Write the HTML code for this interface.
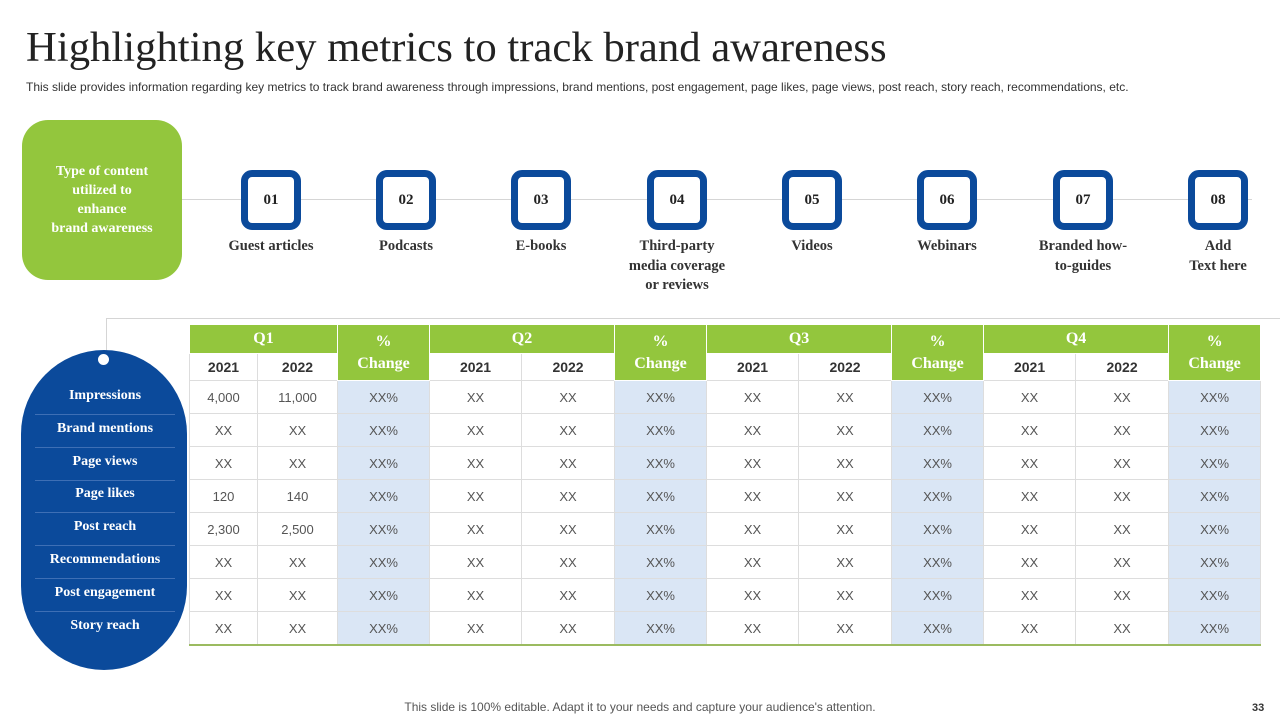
<!DOCTYPE html>
<html><head><meta charset="utf-8">
<style>
body{margin:0;width:1280px;height:720px;background:#fff;position:relative;overflow:hidden;font-family:"Liberation Serif",serif}
.abs{position:absolute}
h1{position:absolute;left:26px;top:23px;margin:0;font-weight:normal;font-size:42.7px;color:#222;font-family:"Liberation Serif",serif;white-space:nowrap}
.sub{left:26px;top:80px;font:12px "Liberation Sans",sans-serif;color:#333;white-space:nowrap}
.green{left:22px;top:120px;width:160px;height:160px;background:#93c63d;border-radius:26px;color:#fff;font-weight:bold;font-size:14px;text-align:center;display:flex;align-items:center;justify-content:center;line-height:19px}
.box{width:46px;height:46px;border:7px solid #0b4a9b;border-radius:11px;background:#fff;display:flex;align-items:center;justify-content:center;font-weight:bold;font-size:15px;color:#222}
.lbl{width:130px;text-align:center;font-weight:bold;font-size:14.5px;color:#333;line-height:19.5px}
.pill{left:21px;top:350px;width:166px;height:320px;background:#0b4a9b;border-radius:83px/84px}
.mlbl{left:35px;width:140px;height:33px;text-align:center;color:#fff;font-weight:bold;font-size:14px;line-height:30px;border-bottom:1px solid #3e6fb5}
table{position:absolute;left:189px;top:324px;border-collapse:collapse;font-family:"Liberation Sans",sans-serif;font-size:13px;color:#555;border-bottom:2px solid #9bbb60}
td{border:1px solid #ddd;text-align:center;height:32px;padding:0}
.gh{background:#93c63d;color:#fff;font-family:"Liberation Serif",serif;font-weight:bold;font-size:16px;border:1px solid #fff;height:28px}
.yr{font-weight:bold;font-size:14px;color:#333;height:26px}
.pc{background:#dae6f5}
</style></head><body>
<h1>Highlighting key metrics to track brand awareness</h1>
<div class="abs sub">This slide provides information regarding key metrics to track brand awareness through impressions, brand mentions, post engagement, page likes, page views, post reach, story reach, recommendations, etc.</div>
<div class="abs green">Type of content<br>utilized to<br>enhance<br>brand awareness</div>
<div class="abs" style="left:182px;top:199px;width:1070px;height:1px;background:#d5d5d5"></div>
<div id="steps"></div>
<div class="abs" style="left:106px;top:318px;width:1174px;height:1px;background:#d5d5d5"></div>
<div class="abs" style="left:106px;top:318px;width:1px;height:34px;background:#d5d5d5"></div>
<div class="abs pill"></div>
<div class="abs" style="left:98px;top:354px;width:11px;height:11px;border-radius:50%;background:#fff"></div>
<div id="metrics"></div>
<table id="tbl"></table>
<div class="abs" style="left:0;width:1280px;top:700px;text-align:center;font:12px 'Liberation Sans',sans-serif;color:#555">This slide is 100% editable. Adapt it to your needs and capture your audience's attention.</div>
<div class="abs" style="left:1252px;top:702px;font:bold 11px 'Liberation Sans',sans-serif;color:#333">33</div>
<script>
const stepLabels=["Guest articles","Podcasts","E-books","Third-party<br>media coverage<br>or reviews","Videos","Webinars","Branded how-<br>to-guides","Add<br>Text here"];
const metrics=["Impressions","Brand  mentions","Page views","Page likes","Post reach","Recommendations","Post engagement","Story reach"];
const q1y2021=["4,000","XX","XX","120","2,300","XX","XX","XX"];
const q1y2022=["11,000","XX","XX","140","2,500","XX","XX","XX"];
const steps=document.getElementById('steps');
const cx=[271,406,541,677,812,947,1083,1218];
stepLabels.forEach((t,i)=>{
 const b=document.createElement('div');b.className='abs box';b.style.left=(cx[i]-30)+'px';b.style.top='170px';b.textContent='0'+(i+1);
 
 
 steps.appendChild(b);
 const l=document.createElement('div');l.className='abs lbl';l.style.left=(cx[i]-65)+'px';l.style.top='237px';l.innerHTML=t;
 
 
 steps.appendChild(l);
});
const m=document.getElementById('metrics');
metrics.forEach((t,i)=>{
 const d=document.createElement('div');d.className='abs mlbl';d.style.top=(381+i*32.8)+'px';d.textContent=t;
 if(i==7)d.style.borderBottom='none';
 
 
 m.appendChild(d);
});
const widths=[68,80,92,92,93,92,92,93,92,92,93,92];
let h='<colgroup>'+widths.map(w=>'<col style="width:'+w+'px">').join('')+'</colgroup><tr>';
for(let q=1;q<=4;q++)h+='<td class="gh" colspan="2">Q'+q+'</td><td class="gh" rowspan="2" style="line-height:22px">%<br>Change</td>';
h+='</tr><tr>';
for(let q=1;q<=4;q++)h+='<td class="yr">2021</td><td class="yr">2022</td>';
h+='</tr>';
for(let r=0;r<8;r++){h+='<tr>';for(let q=0;q<4;q++){const a=q==0?q1y2021[r]:'XX',b=q==0?q1y2022[r]:'XX';h+='<td>'+a+'</td><td>'+b+'</td><td class="pc">XX%</td>';}h+='</tr>';}
const tb=document.getElementById('tbl');tb.style.width='1071px';tb.style.tableLayout='fixed';tb.innerHTML=h;
</script>
</body></html>
